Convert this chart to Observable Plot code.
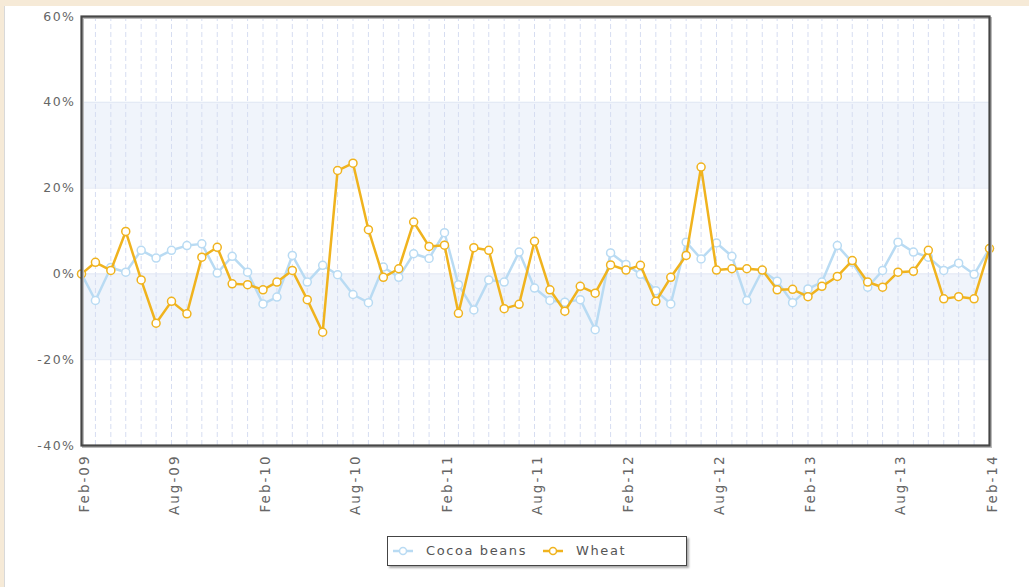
<!DOCTYPE html>
<html>
<head>
<meta charset="utf-8">
<script src="https://cdn.jsdelivr.net/npm/d3@7"></script>
<script src="https://cdn.jsdelivr.net/npm/@observablehq/plot@0.6"></script>
<style>
  html, body { margin: 0; padding: 0; width: 1029px; height: 587px; overflow: hidden; background: #f6ead7; }
  #panel { position: absolute; left: 4px; top: 6px; width: 1025px; height: 581px; background: #fff; border-left: 1px solid #d9d9d9; }
  #chart { position: absolute; left: 0; top: 0; }
  #chart g[aria-label="x-axis tick label"] { letter-spacing: 2px; }
  #legend { position: absolute; left: 387px; top: 536px; width: 298px; height: 28px; background: #fff;
            border: 1px solid #444; box-shadow: 2px 2px 2px #aaa; font-family: "DejaVu Sans", sans-serif;
            font-size: 13px; letter-spacing: 1.6px; color: #555; }
  .item { position: absolute; top: 0; height: 28px; line-height: 27px; white-space: nowrap; }
  .item svg { position: absolute; top: 8px; left: 0; }
  .item span { position: absolute; left: 33px; top: 0; }
</style>
</head>
<body>
<div id="panel"></div>
<div id="chart"></div>
<div id="legend"></div>
<script>
const seriesNames = ["Cocoa beans", "Wheat"];
const seriesColors = ["#b9dbf3", "#f0b31e"];
const startMonth = "2009-02";
const endMonth = "2014-02";
const tickLabels = ["Feb-09","Aug-09","Feb-10","Aug-10","Feb-11","Aug-11","Feb-12","Aug-12","Feb-13","Aug-13","Feb-14"];
const yTicks = [-40, -20, 0, 20, 40, 60];
const bands = [[20, 40], [-20, 0]];

const cocoa = [0, -6.2, 1.5, 0.4, 5.5, 3.7, 5.5, 6.6, 7.0, 0.2, 4.1, 0.4, -7.0, -5.4, 4.3, -1.9, 2.0, -0.2, -4.8, -6.7,
  1.6, -0.8, 4.7, 3.6, 9.6, -2.5, -8.4, -1.4, -1.9, 5.1, -3.3, -6.2, -6.6, -6.0, -13.0, 4.9, 2.2, -0.1, -3.9, -7.0,
  7.4, 3.5, 7.2, 4.1, -6.2, 0.8, -1.7, -6.7, -3.5, -1.9, 6.6, 2.7, -3.1, 0.8, 7.4, 5.1, 3.9, 0.8, 2.5, -0.1, 5.9];
const wheat = [0, 2.7, 0.8, 9.9, -1.4, -11.5, -6.4, -9.3, 3.9, 6.2, -2.3, -2.5, -3.7, -1.9, 0.8, -6.0, -13.6, 24.1, 25.8, 10.3,
  -0.8, 1.2, 12.1, 6.4, 6.7, -9.2, 6.1, 5.5, -8.1, -7.1, 7.6, -3.7, -8.7, -2.9, -4.5, 2.1, 0.9, 2.0, -6.4, -0.8,
  4.3, 24.9, 0.9, 1.2, 1.2, 0.9, -3.7, -3.6, -5.3, -2.9, -0.6, 3.1, -1.9, -3.1, 0.4, 0.6, 5.5, -5.8, -5.3, -5.8, 5.9];

const parseM = d3.utcParse("%Y-%m");
const parseTick = d3.utcParse("%b-%y");
const fmt = d3.utcFormat("%b-%y");
const months = d3.utcMonth.range(parseM(startMonth), d3.utcMonth.offset(parseM(endMonth), 1));
const tickDates = tickLabels.map(parseTick);

const rows = (vals, name) => vals.map((v, i) => ({date: months[i], value: v, series: name}));
const cocoaRows = rows(cocoa, seriesNames[0]);
const wheatRows = rows(wheat, seriesNames[1]);
const bandRows = bands.map(([a, b]) => ({y1: a, y2: b}));

const chart = Plot.plot({
  width: 1029,
  height: 530,
  marginLeft: 81,
  marginRight: 40,
  marginTop: 16,
  marginBottom: 85,
  style: {fontFamily: "DejaVu Sans, sans-serif", fontSize: "12.5px", color: "#666", letterSpacing: "1.5px", background: "transparent"},
  x: {type: "utc", domain: [months[0], months[months.length - 1]], label: null},
  y: {domain: [-40, 60], label: null},
  marks: [
    Plot.rect(bandRows, {y1: "y1", y2: "y2", fill: "#f0f4fb"}),
    Plot.ruleX(months, {stroke: "#d6ddf1", strokeDasharray: "5,3", strokeWidth: 1}),
    Plot.ruleY(yTicks.filter(d => d > -40 && d < 60), {stroke: "#e2e8f4", strokeWidth: 1}),
    Plot.axisY({ticks: yTicks, tickFormat: d => d + "%", tickSize: 0, tickPadding: 6, label: null}),
    Plot.axisX({ticks: tickDates, tickFormat: fmt, tickRotate: -90, tickSize: 0, tickPadding: 9,
                fontSize: 13.5, dx: 3, label: null}),
    Plot.line(cocoaRows, {x: "date", y: "value", stroke: seriesColors[0], strokeWidth: 2.5}),
    Plot.dot(cocoaRows, {x: "date", y: "value", r: 4, fill: "#fff", stroke: seriesColors[0], strokeWidth: 1.5}),
    Plot.line(wheatRows, {x: "date", y: "value", stroke: seriesColors[1], strokeWidth: 2.5}),
    Plot.dot(wheatRows, {x: "date", y: "value", r: 4, fill: "#fff", stroke: seriesColors[1], strokeWidth: 1.5}),
    Plot.frame({stroke: "#bbb", strokeWidth: 2, dx: 1.5, dy: 1.5}),
    Plot.frame({stroke: "#464646", strokeWidth: 2.2})
  ]
});
document.getElementById("chart").appendChild(chart);

// legend
const legend = document.getElementById("legend");
const lefts = [5, 155];
seriesNames.forEach((name, i) => {
  const item = document.createElement("div");
  item.className = "item";
  item.style.left = lefts[i] + "px";
  item.innerHTML = `<svg width="24" height="12"><line x1="0" y1="6" x2="20" y2="6" stroke="${seriesColors[i]}" stroke-width="2.5"/>` +
    `<circle cx="10" cy="6" r="3.5" fill="#fff" stroke="${seriesColors[i]}" stroke-width="1.5"/></svg><span>${name}</span>`;
  legend.appendChild(item);
});
</script>
</body>
</html>
